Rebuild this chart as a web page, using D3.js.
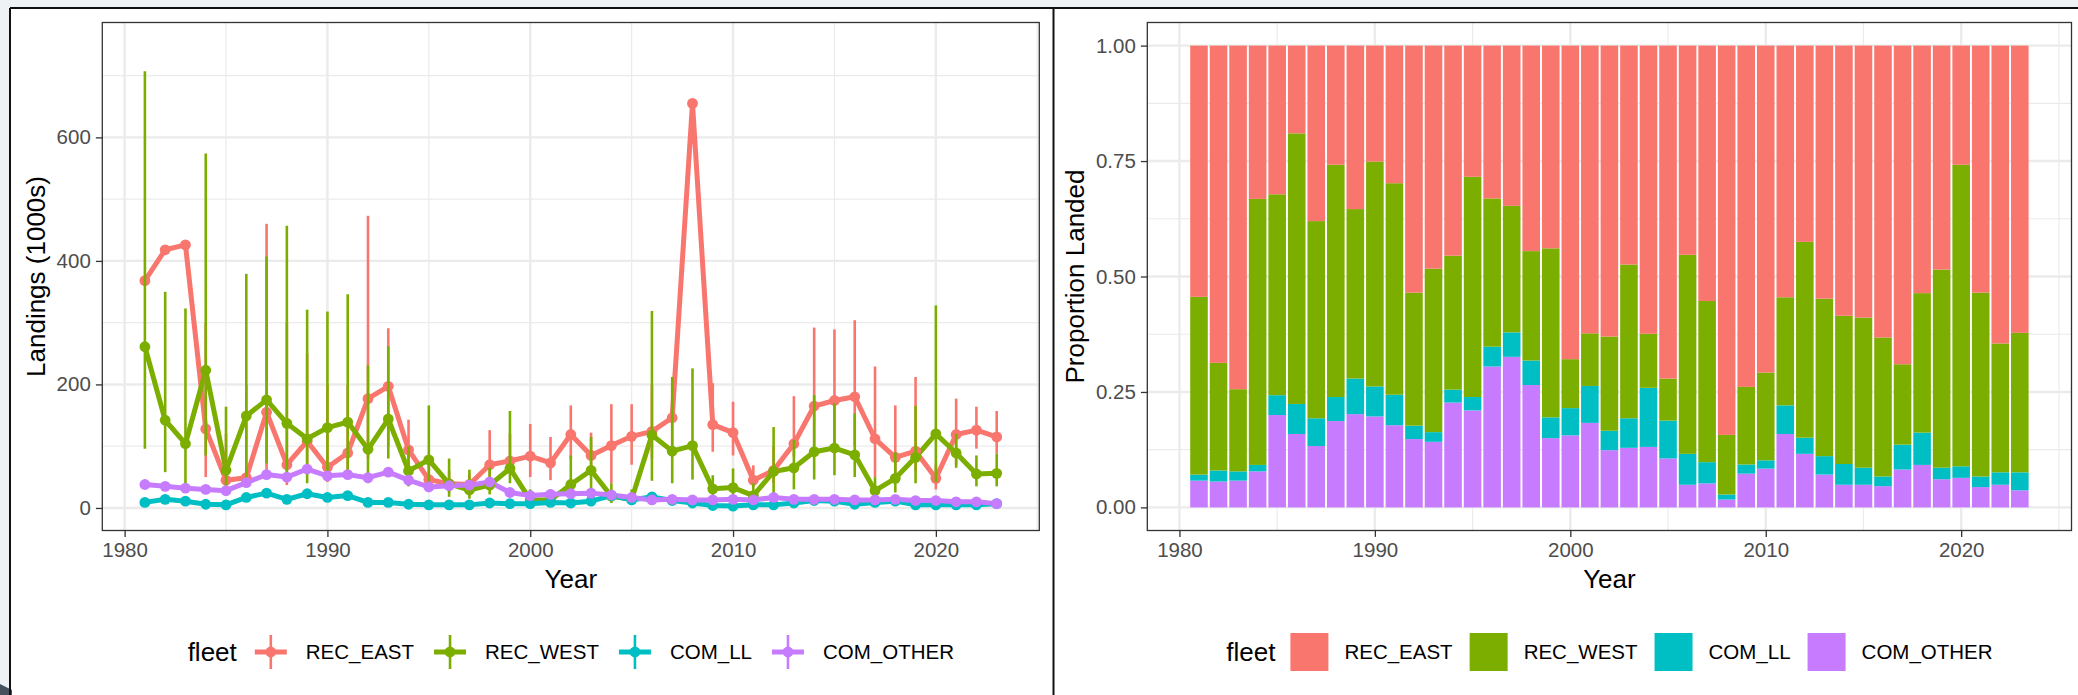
<!DOCTYPE html>
<html>
<head>
<meta charset="utf-8">
<script src="https://cdn.jsdelivr.net/npm/d3@7"></script>
<style>
  html, body { margin: 0; padding: 0; background: #eef2f5; overflow: hidden; }
  svg { display: block; font-family: "Liberation Sans", Arial, sans-serif; }
</style>
</head>
<body>
<script>
// ---- data ----
const years = [1981, 1982, 1983, 1984, 1985, 1986, 1987, 1988, 1989, 1990,
  1991, 1992, 1993, 1994, 1995, 1996, 1997, 1998, 1999, 2000,
  2001, 2002, 2003, 2004, 2005, 2006, 2007, 2008, 2009, 2010,
  2011, 2012, 2013, 2014, 2015, 2016, 2017, 2018, 2019, 2020,
  2021, 2022, 2023];

const fleets = ['REC_EAST', 'REC_WEST', 'COM_LL', 'COM_OTHER'];
const fleetColors = ['#F8766D', '#7CAE00', '#00BFC4', '#C77CFF'];

// landings (1000s)
const recEast = [368, 418, 426, 128, 45, 49, 155, 70, 108, 66,
  89, 177, 197, 94, 46, 39, 38, 70, 76, 84,
  73, 119, 85, 101, 116, 124, 146, 655, 135, 122,
  45, 61, 104, 165, 174, 180, 112, 82, 92, 48,
  119, 126, 115];
const recWest = [261, 142, 104, 223, 61, 149, 175, 137, 112, 130,
  139, 95, 144, 60, 78, 39, 29, 37, 64, 13,
  13, 38, 61, 19, 14, 118, 92, 101, 31, 33,
  20, 59, 65, 91, 97, 86, 28, 48, 82, 120,
  89, 55, 56];
const comLL = [9, 14, 11, 6, 5, 17, 24, 14, 23, 17,
  20, 9, 9, 6, 5, 5, 5, 8, 7, 7,
  9, 8, 11, 20, 13, 18, 12, 8, 4, 3,
  5, 5, 8, 12, 11, 6, 9, 11, 5, 5,
  5, 5, 7];
const comOther = [38, 35, 32, 30, 28, 41, 54, 50, 63, 52,
  54, 49, 58, 45, 34, 36, 37, 42, 25, 20,
  22, 23, 24, 21, 17, 13, 14, 13, 13, 14,
  13, 17, 14, 14, 14, 13, 13, 14, 12, 12,
  10, 10, 7];

// interval bounds (null = no interval drawn)
const recEastLo = [null, null, null, 50, 20, 34, 60, 37, 60, 42,
  50, 80, 100, 50, 30, 25, 25, 45, 55, 50,
  45, 80, 60, 40, 70, 80, 100, null, 91, 85,
  34, 40, 83, 100, 100, 100, 50, 45, 60, 30,
  70, 96, 88];
const recEastHi = [null, null, null, 300, 120, 200, 460, 300, 250, 200,
  200, 473, 291, 143, 80, 60, 55, 126, 120, 136,
  115, 166, 122, 168, 168, 200, 200, null, 202, 172,
  69, 100, 181, 292, 289, 304, 229, 166, 212, 70,
  177, 164, 157];
const recWestLo = [96, 58, 34, 85, 20, 45, 72, 50, 40, 45,
  61, 40, 80, 35, 29, 18, 15, 22, 40, 5,
  5, 15, 25, 8, 6, 44, 40, 46, 12, 15,
  10, 23, 30, 46, 53, 50, 12, 25, 40, 42,
  65, 35, 35];
const recWestHi = [707, 350, 323, 574, 164, 379, 407, 457, 321, 318,
  346, 231, 262, 100, 166, 80, 62, 65, 157, 30,
  30, 85, 115, 40, 30, 319, 212, 226, 53, 64,
  40, 131, 110, 183, 170, 153, 50, 90, 165, 328,
  120, 85, 88];

// proportion landed by fleet
const shareRecEast = [0.544, 0.687, 0.744, 0.332, 0.322, 0.190, 0.380, 0.258, 0.354, 0.251,
  0.298, 0.535, 0.483, 0.455, 0.284, 0.331, 0.347, 0.445, 0.439, 0.679,
  0.623, 0.630, 0.474, 0.624, 0.721, 0.453, 0.553, 0.843, 0.739, 0.708,
  0.545, 0.425, 0.548, 0.585, 0.589, 0.632, 0.690, 0.536, 0.485, 0.258,
  0.535, 0.645, 0.622];
const shareRecWest = [0.385, 0.233, 0.178, 0.576, 0.435, 0.586, 0.427, 0.503, 0.367, 0.487,
  0.458, 0.288, 0.354, 0.290, 0.477, 0.321, 0.274, 0.237, 0.366, 0.106,
  0.114, 0.204, 0.333, 0.117, 0.091, 0.431, 0.349, 0.129, 0.168, 0.190,
  0.234, 0.424, 0.341, 0.321, 0.325, 0.301, 0.174, 0.302, 0.429, 0.653,
  0.398, 0.279, 0.302];
const shareComLL = [0.013, 0.024, 0.020, 0.014, 0.043, 0.065, 0.060, 0.052, 0.077, 0.065,
  0.066, 0.029, 0.021, 0.028, 0.029, 0.043, 0.053, 0.053, 0.045, 0.059,
  0.080, 0.042, 0.064, 0.128, 0.082, 0.067, 0.046, 0.011, 0.020, 0.018,
  0.062, 0.035, 0.040, 0.045, 0.037, 0.021, 0.054, 0.070, 0.025, 0.025,
  0.023, 0.027, 0.039];
const shareComOther = [0.058, 0.056, 0.058, 0.078, 0.200, 0.159, 0.133, 0.187, 0.202, 0.197,
  0.178, 0.148, 0.142, 0.227, 0.210, 0.305, 0.326, 0.265, 0.150, 0.156,
  0.183, 0.124, 0.129, 0.131, 0.106, 0.049, 0.052, 0.017, 0.073, 0.084,
  0.159, 0.116, 0.071, 0.049, 0.049, 0.046, 0.082, 0.092, 0.061, 0.064,
  0.044, 0.049, 0.037];

const yearTicks = [1980, 1990, 2000, 2010, 2020];
const yearMinor = [1985, 1995, 2005, 2015, 2025];
const landingTicks = [0, 200, 400, 600];
const landingMinor = [100, 300, 500, 700];
const propTicks = [0, 0.25, 0.5, 0.75, 1];
const propMinor = [0.125, 0.375, 0.625, 0.875];

// ---- layout ----
const W = 2078, H = 695;
const TICK_FONT = 20.5, TITLE_FONT = 26;
const LINE_W = 5, BAR_W = 2.6, PT_R = 5.4;
const panelTop = 22.5, panelBottom = 530.5;
const left = { x0: 102.3, x1: 1039.3 };
const right = { x0: 1147.3, x1: 2071.5 };

const svg = d3.select('body').append('svg')
  .attr('width', W)
  .attr('height', H);

// window frame
svg.append('rect').attr('width', W).attr('height', H).attr('fill', '#eef2f5');
svg.append('rect').attr('x', 10).attr('y', 8).attr('width', W - 10).attr('height', H - 8).attr('fill', 'white');
svg.append('path').attr('d', 'M0,684 L12,690 L12,695 L0,695 Z').attr('fill', '#46525e');
svg.append('line').attr('x1', 10).attr('x2', W).attr('y1', 8).attr('y2', 8).attr('stroke', '#111').attr('stroke-width', 2);
svg.append('line').attr('x1', 10).attr('x2', 10).attr('y1', 8).attr('y2', H).attr('stroke', '#111').attr('stroke-width', 2);
svg.append('line').attr('x1', 1053.5).attr('x2', 1053.5).attr('y1', 8).attr('y2', H).attr('stroke', '#111').attr('stroke-width', 2);

function drawGrid(g, x, y, xMaj, xMin, yMaj, yMin) {
  const [x0, x1] = x.range();
  const [y1, y0] = y.range();
  const grid = g.append('g').attr('fill', 'none').attr('stroke', '#ebebeb');
  grid.selectAll('.ymin').data(yMin).join('line')
    .attr('x1', x0).attr('x2', x1).attr('y1', d => y(d)).attr('y2', d => y(d)).attr('stroke-width', 1.2);
  grid.selectAll('.xmin').data(xMin).join('line')
    .attr('y1', y0).attr('y2', y1).attr('x1', d => x(d)).attr('x2', d => x(d)).attr('stroke-width', 1.2);
  grid.selectAll('.ymaj').data(yMaj).join('line')
    .attr('x1', x0).attr('x2', x1).attr('y1', d => y(d)).attr('y2', d => y(d)).attr('stroke-width', 2.4);
  grid.selectAll('.xmaj').data(xMaj).join('line')
    .attr('y1', y0).attr('y2', y1).attr('x1', d => x(d)).attr('x2', d => x(d)).attr('stroke-width', 2.4);
}

function drawAxes(g, x, y, yTicks, yFormat, yTitle) {
  const [x0, x1] = x.range();
  const xa = g.append('g').attr('transform', `translate(0,${panelBottom})`)
    .call(d3.axisBottom(x).tickValues(yearTicks).tickFormat(d3.format('d')).tickSize(6.4).tickPadding(5.1));
  const ya = g.append('g').attr('transform', `translate(${x0},0)`)
    .call(d3.axisLeft(y).tickValues(yTicks).tickFormat(yFormat).tickSize(6.4).tickPadding(5.1));
  [xa, ya].forEach(a => {
    a.select('.domain').remove();
    a.selectAll('.tick line').attr('stroke', '#333').attr('stroke-width', 1.3);
    a.selectAll('.tick text').attr('fill', '#4d4d4d').attr('font-size', TICK_FONT)
      .attr('font-family', '"Liberation Sans", Arial, sans-serif');
  });

  g.append('text')
    .attr('x', (x0 + x1) / 2).attr('y', 588)
    .attr('text-anchor', 'middle').attr('font-size', TITLE_FONT).attr('fill', 'black')
    .text('Year');

  // y title sits just left of the widest tick label
  let minX = x0;
  ya.selectAll('.tick text').each(function () {
    minX = Math.min(minX, x0 + this.getBBox().x);
  });
  g.append('text')
    .attr('transform', `translate(${minX - 6.4 - 5.5},${(panelTop + panelBottom) / 2}) rotate(-90)`)
    .attr('text-anchor', 'middle').attr('font-size', TITLE_FONT).attr('fill', 'black')
    .text(yTitle);
}

function drawBorder(g, x) {
  const [x0, x1] = x.range();
  g.append('rect')
    .attr('x', x0).attr('y', panelTop)
    .attr('width', x1 - x0).attr('height', panelBottom - panelTop)
    .attr('fill', 'none').attr('stroke', '#333').attr('stroke-width', 1.3);
}

function drawLegend(g, cx, cy, drawKey) {
  const leg = g.append('g');
  const title = leg.append('text').attr('x', 0).attr('y', cy + TITLE_FONT * 0.36)
    .attr('font-size', TITLE_FONT).attr('fill', 'black').text('fleet');
  let xpos = title.node().getComputedTextLength() + 14;
  fleets.forEach((f, i) => {
    drawKey(leg.append('g').attr('transform', `translate(${xpos},${cy - 20})`), i);
    xpos += 40 + 15;
    const t = leg.append('text').attr('x', xpos).attr('y', cy + TICK_FONT * 0.36)
      .attr('font-size', TICK_FONT).attr('fill', 'black').text(f);
    xpos += t.node().getComputedTextLength() + 16;
  });
  const total = xpos - 16;
  leg.attr('transform', `translate(${cx - total / 2},0)`);
}

// ---- left: landings time series ----
const gl = svg.append('g');
const xL = d3.scaleLinear().domain([1978.9, 2025.1]).range([left.x0, left.x1]);
const yL = d3.scaleLinear().domain([-36.5, 786]).range([panelBottom, panelTop]);

drawGrid(gl, xL, yL, yearTicks, yearMinor, landingTicks, landingMinor);

const seriesValues = [recEast, recWest, comLL, comOther];
const seriesLo = [recEastLo, recWestLo, null, null];
const seriesHi = [recEastHi, recWestHi, null, null];

const series = fleets.map((f, i) => ({
  fleet: f,
  color: fleetColors[i],
  points: years.map((yr, j) => ({
    year: yr,
    value: seriesValues[i][j],
    lo: seriesLo[i] ? seriesLo[i][j] : null,
    hi: seriesHi[i] ? seriesHi[i][j] : null
  }))
}));

const line = d3.line().x(d => xL(d.year)).y(d => yL(d.value));

gl.append('g').selectAll('path').data(series).join('path')
  .attr('d', s => line(s.points))
  .attr('fill', 'none')
  .attr('stroke', s => s.color)
  .attr('stroke-width', LINE_W)
  .attr('stroke-linejoin', 'round');

series.forEach(s => {
  const pg = gl.append('g');
  pg.selectAll('line').data(s.points.filter(d => d.lo !== null && d.hi !== null)).join('line')
    .attr('x1', d => xL(d.year)).attr('x2', d => xL(d.year))
    .attr('y1', d => yL(d.lo)).attr('y2', d => yL(d.hi))
    .attr('stroke', s.color).attr('stroke-width', BAR_W);
  pg.selectAll('circle').data(s.points).join('circle')
    .attr('cx', d => xL(d.year)).attr('cy', d => yL(d.value))
    .attr('r', PT_R).attr('fill', s.color);
});

drawBorder(gl, xL);
drawAxes(gl, xL, yL, landingTicks, d3.format('d'), 'Landings (1000s)');

drawLegend(gl, (left.x0 + left.x1) / 2, 652, (k, i) => {
  k.append('line').attr('x1', 4).attr('x2', 36).attr('y1', 20).attr('y2', 20)
    .attr('stroke', fleetColors[i]).attr('stroke-width', LINE_W);
  k.append('line').attr('x1', 20).attr('x2', 20).attr('y1', 3).attr('y2', 37)
    .attr('stroke', fleetColors[i]).attr('stroke-width', BAR_W);
  k.append('circle').attr('cx', 20).attr('cy', 20).attr('r', PT_R).attr('fill', fleetColors[i]);
});

// ---- right: proportion landed ----
const gr = svg.append('g');
const xR = d3.scaleLinear().domain([1978.355, 2025.645]).range([right.x0, right.x1]);
const yR = d3.scaleLinear().domain([-0.05, 1.05]).range([panelBottom, panelTop]);

drawGrid(gr, xR, yR, yearTicks, yearMinor, propTicks, propMinor);

const shareTable = years.map((yr, j) => ({
  year: yr,
  REC_EAST: shareRecEast[j],
  REC_WEST: shareRecWest[j],
  COM_LL: shareComLL[j],
  COM_OTHER: shareComOther[j]
}));

const stack = d3.stack()
  .keys(['COM_OTHER', 'COM_LL', 'REC_WEST', 'REC_EAST'])
  .offset(d3.stackOffsetExpand);

gr.append('g').selectAll('g').data(stack(shareTable)).join('g')
  .attr('fill', s => fleetColors[fleets.indexOf(s.key)])
  .selectAll('rect').data(s => s).join('rect')
  .attr('x', d => xR(d.data.year - 0.45))
  .attr('width', d => xR(d.data.year + 0.45) - xR(d.data.year - 0.45))
  .attr('y', d => yR(d[1]))
  .attr('height', d => yR(d[0]) - yR(d[1]));

drawBorder(gr, xR);
drawAxes(gr, xR, yR, propTicks, d3.format('.2f'), 'Proportion Landed');

drawLegend(gr, (right.x0 + right.x1) / 2, 652, (k, i) => {
  k.append('rect').attr('x', 1).attr('y', 1).attr('width', 38).attr('height', 38)
    .attr('fill', fleetColors[i]);
});
</script>
</body>
</html>
